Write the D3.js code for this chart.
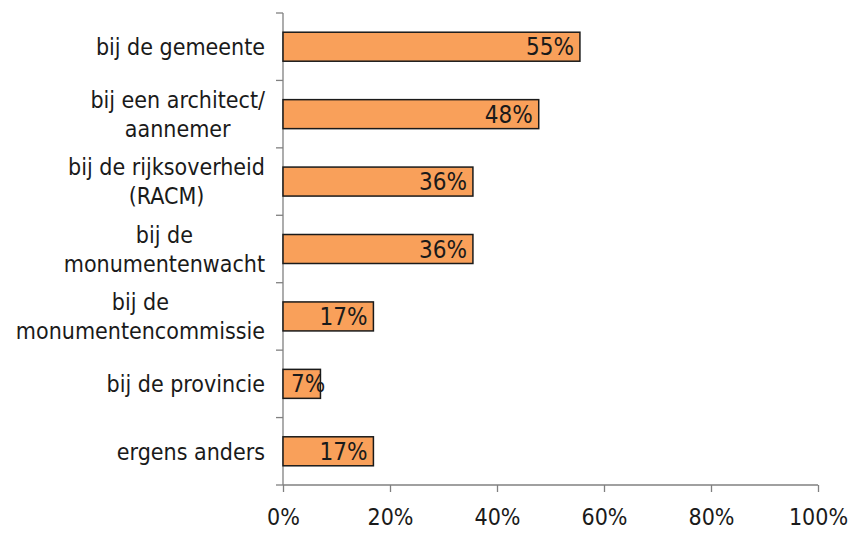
<!DOCTYPE html>
<html>
<head>
<meta charset="utf-8">
<script src="https://cdn.jsdelivr.net/npm/d3@7"></script>
<style>
  body { margin: 0; background: #fff; }
  text { font-family: "DejaVu Sans Condensed", "DejaVu Sans", sans-serif; font-stretch: condensed; fill: #1a1a1a; }
</style>
</head>
<body>
<div id="chart"></div>
<script>
// categories, each label split into its lines
const categories = [
  ['bij de gemeente'],
  ['bij een architect/', 'aannemer'],
  ['bij de rijksoverheid', '(RACM)'],
  ['bij de', 'monumentenwacht'],
  ['bij de', 'monumentencommissie'],
  ['bij de provincie'],
  ['ergens anders']
]
const values = [55.5, 47.8, 35.5, 35.5, 16.9, 7, 16.9]
const valueLabels = ['55%', '48%', '36%', '36%', '17%', '7%', '17%']
const xTicks = [0, 20, 40, 60, 80, 100]

const width = 852, height = 533
const margin = {top: 13, right: 34, bottom: 48, left: 283}
const fontFam = '"DejaVu Sans Condensed", "DejaVu Sans", sans-serif'

const svg = d3.select('#chart').append('svg')
    .attr('width', width)
    .attr('height', height)

const keys = categories.map((c, i) => i)

const x = d3.scaleLinear()
    .domain([0, 100])
    .range([margin.left, width - margin.right])

const y = d3.scaleBand()
    .domain(keys)
    .range([margin.top, height - margin.bottom])
    .paddingInner(0.57)
    .paddingOuter(0.285)

const axisColor = '#808080'

// y axis line with ticks at the category boundaries
const y0 = margin.top, y1 = height - margin.bottom
svg.append('line')
    .attr('x1', x(0)).attr('x2', x(0))
    .attr('y1', y0).attr('y2', y1)
    .attr('stroke', axisColor).attr('stroke-width', 1.3)
d3.range(categories.length + 1).forEach(i => {
    const yy = y0 + i * (y1 - y0) / categories.length
    svg.append('line')
        .attr('x1', x(0) - 7).attr('x2', x(0))
        .attr('y1', yy).attr('y2', yy)
        .attr('stroke', axisColor).attr('stroke-width', 1.3)
})

// x axis
const xAxis = svg.append('g')
    .attr('transform', 'translate(0,' + y1 + ')')
    .call(d3.axisBottom(x)
        .tickValues(xTicks)
        .tickSize(7)
        .tickPadding(17)
        .tickFormat(d => d + '%'))
xAxis.select('.domain').attr('stroke', axisColor).attr('stroke-width', 1.3)
    .attr('d', 'M' + x(0) + ',0H' + x(100))
xAxis.selectAll('.tick line').attr('stroke', axisColor).attr('stroke-width', 1.3)
xAxis.selectAll('.tick text')
    .style('font-size', '23px')
    .style('font-family', fontFam)
    .attr('fill', '#1a1a1a')

// bars
svg.selectAll('rect.bar')
    .data(values)
    .join('rect')
        .attr('class', 'bar')
        .attr('x', x(0))
        .attr('y', (d, i) => y(i))
        .attr('width', d => x(d) - x(0))
        .attr('height', y.bandwidth())
        .attr('fill', '#F9A05A')
        .attr('stroke', '#1a1a1a')
        .attr('stroke-width', 1.5)

// value labels, right aligned inside the bar end
svg.selectAll('text.val')
    .data(values)
    .join('text')
        .attr('class', 'val')
        .attr('text-anchor', 'end')
        .attr('dy', '0.36em')
        .attr('y', (d, i) => y(i) + y.bandwidth() / 2)
        .style('font-size', '24px')
        .text((d, i) => valueLabels[i])
        .attr('x', function(d) {
            const w = this.getComputedTextLength()
            return Math.max(x(d) - 6, x(0) + 8 + w)
        })

// category labels: lines centred on each other, block right aligned
const labelRight = 265
const lineH = 29
categories.forEach((lines, i) => {
    const g = svg.append('g')
    const cy = y(i) + y.bandwidth() / 2
    const texts = lines.map((line, j) => g.append('text')
        .attr('y', cy + (j - (lines.length - 1) / 2) * lineH)
        .attr('dy', '0.36em')
        .attr('text-anchor', 'middle')
        .style('font-size', '23px')
        .text(line))
    const maxW = d3.max(texts, t => t.node().getComputedTextLength())
    texts.forEach(t => t.attr('x', labelRight - maxW / 2))
})
</script>
</body>
</html>
